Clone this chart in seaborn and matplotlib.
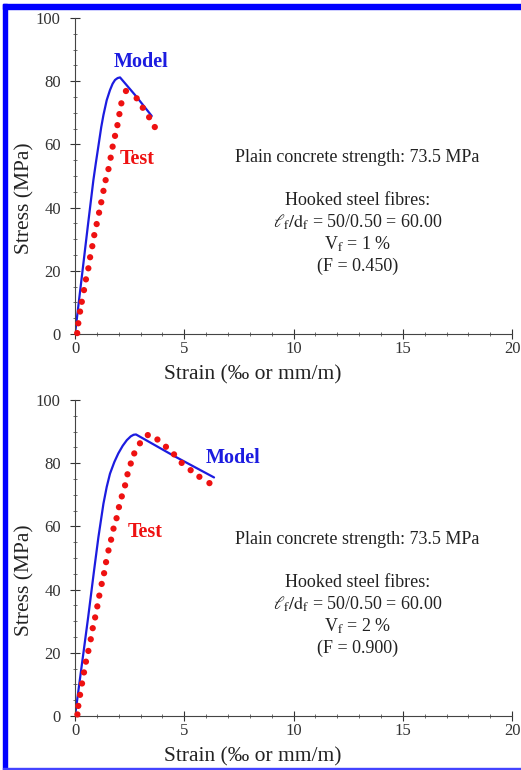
import numpy as np
import pandas as pd
import matplotlib
matplotlib.use("Agg")
import matplotlib.pyplot as plt
from matplotlib.patches import Rectangle
from matplotlib.ticker import MultipleLocator
import seaborn as sns

# ---- data ----
# panel 1: Vf = 1 %
model1_strain = [0.0, 0.30, 0.60, 0.84, 0.95, 1.07, 1.20, 1.30, 1.45, 1.60, 1.72,
                 1.83, 1.95, 2.06, 2.80, 3.51]
model1_stress = [0.0, 17.5, 35.0, 48.7, 54.0, 59.5, 65.5, 69.3, 74.0, 77.2, 79.2,
                 80.4, 81.0, 81.2, 75.2, 69.0]
test1_strain = [0.10, 0.15, 0.23, 0.31, 0.41, 0.50, 0.61, 0.69, 0.79, 0.88, 0.99,
                1.10, 1.20, 1.30, 1.40, 1.53, 1.63, 1.72, 1.83, 1.94, 2.03, 2.12,
                2.33, 2.82, 3.10, 3.39, 3.65]
test1_stress = [0.3, 3.4, 7.1, 10.2, 13.9, 17.3, 20.8, 24.3, 27.8, 31.3, 34.8,
                38.4, 41.7, 45.3, 48.7, 52.2, 55.8, 59.3, 62.7, 66.1, 69.6, 73.0,
                76.9, 74.6, 71.6, 68.6, 65.5]

# panel 2: Vf = 2 %
model2_strain = [0.0, 0.30, 0.60, 0.87, 1.07, 1.30, 1.45, 1.60, 1.80, 1.98, 2.18,
                 2.37, 2.55, 2.68, 2.79, 4.50, 6.36]
model2_stress = [0.0, 15.6, 31.2, 46.0, 56.6, 67.2, 72.5, 76.7, 80.4, 83.1, 85.5,
                 87.3, 88.5, 89.0, 89.1, 82.4, 75.5]
test2_strain = [0.11, 0.15, 0.23, 0.32, 0.41, 0.50, 0.61, 0.72, 0.81, 0.92, 1.02,
                1.11, 1.22, 1.33, 1.42, 1.53, 1.65, 1.76, 1.90, 2.01, 2.14, 2.29,
                2.40, 2.55, 2.71, 2.97, 3.33, 3.77, 4.16, 4.53, 4.88, 5.29, 5.69,
                6.15]
test2_stress = [0.5, 3.2, 6.7, 10.3, 13.8, 17.2, 20.6, 24.3, 27.8, 31.2, 34.7,
                38.1, 41.8, 45.2, 48.7, 52.4, 55.8, 59.3, 62.6, 66.1, 69.5, 73.0,
                76.5, 79.9, 83.1, 86.3, 88.9, 87.5, 85.2, 82.8, 80.1, 77.8, 75.7,
                73.7]

x_ticks = [0, 5, 10, 15, 20]
y_ticks = [0, 20, 40, 60, 80, 100]
vf_labels = ["1 %", "2 %"]
f_labels = ["(F = 0.450)", "(F = 0.900)"]

sns.set_style("ticks")
plt.rcParams["font.family"] = ["Liberation Serif", "DejaVu Serif"]
plt.rcParams["mathtext.fontset"] = "stix"

fig = plt.figure(figsize=(5.21, 7.70), dpi=100)
ax1 = fig.add_axes([0.144, 0.5662, 0.839, 0.4104])
ax2 = fig.add_axes([0.144, 0.0701, 0.839, 0.4104])

panels = [
    (ax1, model1_strain, model1_stress, test1_strain, test1_stress,
     (3.0, 86.2), (2.85, 55.5)),
    (ax2, model2_strain, model2_stress, test2_strain, test2_stress,
     (7.25, 81.8), (3.2, 58.3)),
]

for i, (ax, ms, mst, ts, tst, model_xy, test_xy) in enumerate(panels):
    df_m = pd.DataFrame({"strain": ms, "stress": mst})
    df_t = pd.DataFrame({"strain": ts, "stress": tst})
    sns.lineplot(data=df_m, x="strain", y="stress", ax=ax, color="#1c1ce0",
                 lw=1.6, sort=False)
    sns.scatterplot(data=df_t, x="strain", y="stress", ax=ax, color="#ee1111",
                    s=20, edgecolor="none", zorder=3, clip_on=False)

    ax.set_xlim(0, 20)
    ax.set_ylim(0, 100)
    ax.set_xticks(x_ticks)
    ax.set_yticks(y_ticks)
    ax.xaxis.set_minor_locator(MultipleLocator(1))
    ax.yaxis.set_minor_locator(MultipleLocator(5))
    ax.tick_params(which="major", direction="inout", length=6.5, width=0.8,
                   labelsize=12, colors="#333333")
    ax.tick_params(axis="y", which="major", pad=7)
    ax.tick_params(axis="x", which="major", pad=2)
    ax.tick_params(which="minor", direction="inout", length=3, width=0.6,
                   colors="#555555")
    for s in ["top", "right"]:
        ax.spines[s].set_visible(False)
    for s in ["left", "bottom"]:
        ax.spines[s].set_color("#444444")
        ax.spines[s].set_linewidth(0.8)

    ax.set_xlabel("Strain (‰ or mm/m)", fontsize=15.5, color="#222222")
    ax.set_ylabel("Stress (MPa)", fontsize=15.5, color="#222222")
    ax.xaxis.set_label_coords(0.406, -0.098)
    ax.yaxis.set_label_coords(-0.092, 0.43)

    ax.text(*model_xy, "Model", color="#1c1ce0", fontsize=14.5, fontweight="bold",
            ha="center", va="center")
    ax.text(*test_xy, "Test", color="#ee1111", fontsize=14.5, fontweight="bold",
            ha="center", va="center")

    tc = "#222222"
    fs = 13
    ax.text(12.93, 56.0, "Plain concrete strength: 73.5 MPa", fontsize=fs,
            ha="center", va="center", color=tc)
    ax.text(12.93, 42.4, "Hooked steel fibres:", fontsize=fs,
            ha="center", va="center", color=tc)
    ax.text(12.93, 35.4, r"$\ell_\mathrm{f}/\mathrm{d}_\mathrm{f}$ = 50/0.50 = 60.00",
            fontsize=fs, ha="center", va="center", color=tc)
    ax.text(12.93, 28.5, r"V$_\mathrm{f}$ = " + vf_labels[i], fontsize=fs,
            ha="center", va="center", color=tc)
    ax.text(12.93, 21.5, f_labels[i], fontsize=fs,
            ha="center", va="center", color=tc)

# blue frame around the figure
fig.patches.append(Rectangle((0.006, 0.0), 0.008, 0.995, transform=fig.transFigure,
                             color="#0000ff", zorder=0))
fig.patches.append(Rectangle((0.006, 0.988), 0.994, 0.007, transform=fig.transFigure,
                             color="#0000ff", zorder=0))
fig.patches.append(Rectangle((0.006, 0.001), 0.994, 0.002, transform=fig.transFigure,
                             color="#4444ff", zorder=0))

fig.savefig("out.png", dpi=100)
